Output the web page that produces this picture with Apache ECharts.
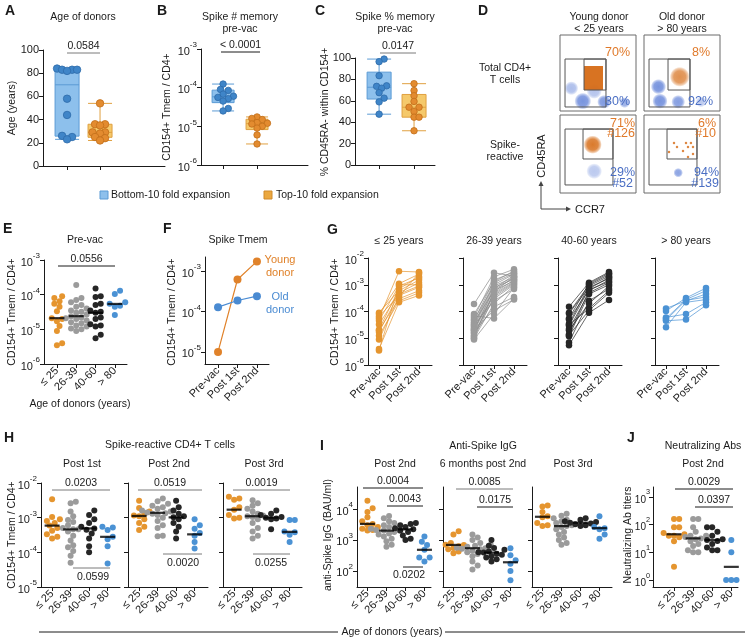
<!DOCTYPE html>
<html><head><meta charset="utf-8">
<script src="https://cdn.jsdelivr.net/npm/echarts@6/dist/echarts.min.js"></script>
<style>html,body{margin:0;padding:0;background:#fff}#c{width:746px;height:639px}</style>
</head><body><div id="c"></div>
<script>
// ======================= DATA =======================
const ageGroups = ['≤ 25', '26-39', '40-60', '> 80'];
const timePoints = ['Pre-vac', 'Post 1st', 'Post 2nd'];
const expansionGroups = ['Bottom-10 fold expansion', 'Top-10 fold expansion'];

// A: age of donors
const ageBottom10 = [84, 83, 83, 83, 82, 58, 44, 26, 25, 23];
const ageTop10 = [54, 36, 36, 35, 29, 29, 28, 25, 24, 22];
// B: spike # memory pre-vac (CD154+ Tmem / CD4+)
const spikeNumBottom10 = [1.24e-4, 9.0e-5, 8.5e-5, 6.8e-5, 6.0e-5, 5.6e-5, 5.2e-5, 4.5e-5, 2.9e-5, 2.5e-5];
const spikeNumTop10 = [1.75e-5, 1.6e-5, 1.5e-5, 1.25e-5, 1.2e-5, 1.15e-5, 1.0e-5, 9e-6, 6e-6, 3.5e-6];
// C: spike % memory pre-vac
const spikePctBottom10 = [99, 96.6, 83.5, 74, 73.5, 71.8, 67.6, 62.5, 59, 47.5];
const spikePctTop10 = [76, 69.6, 64.7, 59.4, 54, 54, 50, 44.7, 44.7, 32];

// D: flow cytometry (axis units 0-100); gates [x1,y1,x2,y2]
const gatesTotal = [[6.6, 5.3, 60.5, 68.4], [31.6, 27.6, 60.5, 68.4]];
const gatesSpike = [[6.6, 10.3, 69.7, 82], [30.3, 43.6, 69.7, 82]];
// populations [cx, cy, spreadX, spreadY, density]
const youngTotalCCR7 = [[30, 13, 28, 11, 1.0], [58, 12, 27, 9, 0.95], [85, 11, 14, 7, 0.75], [15, 30, 9, 22, 0.6], [45, 26, 25, 10, 0.55]];
const youngTotalMemBlock = [[31.6, 27.6, 56.6, 59.2]];
const oldTotalCCR7 = [[19, 32, 10, 32, 1.0], [21, 13, 13, 10, 1.0], [45, 12, 25, 9, 0.9], [75, 12, 18, 7, 0.5]];
const oldTotalMem = [[47, 45, 13, 17, 0.75]];
const youngSpikeMem = [[43, 62, 12, 16, 0.9]];
const youngSpikeCCR7 = [[45, 28, 22, 10, 0.5]];
const oldSpikeCCR7 = [[45, 26, 21, 6, 0.85]];
const oldSpikeMemEvents = [[39.5, 64.1], [55.3, 64.1], [61.8, 64.1], [64.5, 59], [57.9, 59], [32.9, 52.6], [51.3, 53.8], [64.5, 50], [57.9, 46.2], [43.4, 59]];
const flowPercents = ['70%', '30%', '8%', '92%', '71%', '#126', '29%', '#52', '6%', '#10', '94%', '#139'];

// E / G: pre-vac by age group (donor order shared with G)
const preVac = [
  [9e-5, 8e-5, 6.5e-5, 5.5e-5, 4.5e-5, 3.3e-5, 2.1e-5, 2.0e-5, 1.7e-5, 1.25e-5, 9e-6, 4e-6, 3.5e-6],
  [1.9e-4, 8e-5, 7e-5, 6e-5, 5e-5, 4.5e-5, 4e-5, 3.5e-5, 3.2e-5, 3e-5, 2.7e-5, 2.4e-5, 2.2e-5, 2.1e-5, 2e-5, 1.8e-5, 1.6e-5, 1.5e-5, 1.3e-5, 1.2e-5, 1.05e-5, 1e-5, 9e-6],
  [1.5e-4, 9e-5, 8.5e-5, 5.5e-5, 5e-5, 3.5e-5, 3.2e-5, 3e-5, 2.2e-5, 2e-5, 1.4e-5, 1.3e-5, 1.2e-5, 7e-6, 5.5e-6],
  [1.3e-4, 1.05e-4, 6e-5, 5.5e-5, 4.8e-5, 4.5e-5, 2.6e-5]
];
const preVacMed = [2.1e-5, 2.4e-5, 3.0e-5, 5.4e-5];
const post1st = [
  [6e-4, 1.1e-3, 4e-4, 3.2e-3, 9e-4, 5e-4, 7e-4, 3e-4, 4.5e-4, 2.5e-4, 3.5e-4, 2.2e-4, 1e-3],
  [2.8e-3, 1.3e-3, 5.5e-5, 2e-3, 9e-4, 1.5e-3, 6e-4, 1.2e-3, 2.5e-4, 1e-3, 8e-4, 4e-4, 1.1e-4, 7e-4, 6.5e-4, 5e-4, 3e-4, 1.5e-4, 4.5e-4, 5.5e-4, 3.5e-4, 2e-4, 8e-5],
  [1.2e-3, 1e-3, 8e-4, 1.1e-3, 6.5e-4, 9e-4, 1.3e-4, 7e-4, 5e-4, 2e-4, 6e-4, 1.1e-4, 4.5e-4, 2.5e-4, 9e-5],
  [2.5e-4, 3.2e-4, 8e-5, 2.8e-4, 2.6e-4, 5e-5, 2.2e-4]
];
const post2nd = [
  [1.5e-3, 2.5e-3, 8e-4, 3e-3, 1.8e-3, 1.2e-3, 2e-3, 6e-4, 9e-4, 5e-4, 2.8e-3, 4e-4, 1e-3],
  [2.1e-3, 3.3e-3, 3e-4, 3.8e-3, 1.9e-3, 3e-3, 1.4e-3, 2.7e-3, 7e-4, 2.5e-3, 1.6e-3, 1.2e-3, 2.8e-4, 2.3e-3, 1.8e-3, 1.5e-3, 1e-3, 3.5e-4, 1.3e-3, 2e-3, 1.1e-3, 9e-4, 8e-4],
  [3e-3, 2.4e-3, 1.7e-3, 2.7e-3, 1.3e-3, 2.1e-3, 6e-4, 1.9e-3, 1.2e-3, 9e-4, 1.5e-3, 5e-4, 1e-3, 7e-4, 2.7e-4],
  [4.5e-4, 7.5e-4, 2.2e-4, 6e-4, 3.5e-4, 1.7e-4, 2.8e-4]
];
// F: example donors
const youngDonor = [1e-5, 6.2e-4, 1.74e-3];
const oldDonor = [1.28e-4, 1.87e-4, 2.4e-4];

// H: spike-reactive CD4+ T cells
const hTitles = ['Post 1st', 'Post 2nd', 'Post 3rd'];
const hPost1 = [
  [3.4e-3, 1.05e-3, 9e-4, 8e-4, 7e-4, 5.9e-4, 5e-4, 4.2e-4, 3.3e-4, 2.8e-4, 2.5e-4],
  [2.9e-3, 2.6e-3, 1.5e-3, 1.1e-3, 8.5e-4, 7.5e-4, 6e-4, 5e-4, 4.6e-4, 4.6e-4, 4e-4, 3e-4, 2.2e-4, 1.6e-4, 1.4e-4, 1.1e-4, 8e-5, 5e-5],
  [1.6e-3, 1.2e-3, 9e-4, 7e-4, 5.5e-4, 4.9e-4, 4.5e-4, 3.5e-4, 2.5e-4, 1.5e-4, 1e-4],
  [5.5e-4, 5.2e-4, 4.4e-4, 2.8e-4, 2.4e-4, 1.5e-4, 4.8e-5]
];
const hPost2 = [
  [3.1e-3, 1.9e-3, 1.5e-3, 1.3e-3, 1.15e-3, 1.1e-3, 9e-4, 7e-4, 5.5e-4, 4.4e-4],
  [3.6e-3, 3e-3, 2.5e-3, 2.2e-3, 2e-3, 1.8e-3, 1.6e-3, 1.5e-3, 1.4e-3, 1.35e-3, 1.3e-3, 1.2e-3, 1e-3, 8e-4, 6e-4, 5e-4, 3e-4, 2.9e-4],
  [3.1e-3, 2e-3, 1.6e-3, 1.3e-3, 1.1e-3, 1.02e-3, 9e-4, 7e-4, 5.5e-4, 4e-4, 2.5e-4],
  [9e-4, 6e-4, 4.8e-4, 3.6e-4, 3e-4, 2e-4, 1.3e-4]
];
const hPost3 = [
  [4e-3, 3.6e-3, 3.3e-3, 2e-3, 1.7e-3, 1.2e-3, 1e-3, 9.5e-4],
  [3.2e-3, 2.6e-3, 2.2e-3, 1.8e-3, 1.5e-3, 1.3e-3, 1.15e-3, 1.1e-3, 1.05e-3, 9e-4, 7e-4, 5e-4, 4e-4, 3e-4, 2.5e-4],
  [1.6e-3, 1.3e-3, 1.2e-3, 1.05e-3, 1e-3, 9.5e-4, 9e-4, 4.6e-4],
  [8.5e-4, 8.5e-4, 4e-4, 3.8e-4, 3.2e-4, 2e-4]
];
const hMed = [[5.9e-4, 4.6e-4, 4.9e-4, 2.8e-4], [1.12e-3, 1.38e-3, 1.02e-3, 3.3e-4], [1.7e-3, 1.1e-3, 1.0e-3, 3.9e-4]];

// I: anti-spike IgG (BAU/ml)
const iTitles = ['Post 2nd', '6 months post 2nd', 'Post 3rd'];
const iPost2 = [
  [1.85e4, 1.05e4, 8e3, 5.4e3, 4e3, 3.3e3, 3e3, 2.6e3, 2.3e3, 2.1e3, 2e3],
  [5.9e3, 5e3, 4e3, 3.5e3, 3e3, 2.6e3, 2.3e3, 2.1e3, 2e3, 2e3, 1.8e3, 1.6e3, 1.5e3, 1.3e3, 1.1e3, 9e2, 7e2, 6e2],
  [3.5e3, 3.3e3, 3e3, 2.6e3, 2.4e3, 2.2e3, 2e3, 1.8e3, 1.4e3, 1.1e3, 1e3],
  [1.3e3, 8.8e2, 6.9e2, 4.8e2, 2.7e2, 2.7e2, 2e2]
];
const iMonth6 = [
  [1.9e3, 1.5e3, 8e2, 7.5e2, 7e2, 6.9e2, 6.2e2, 5.5e2, 5e2, 4.2e2, 3.7e2],
  [1.5e3, 1.2e3, 1e3, 8e2, 7e2, 6.5e2, 6e2, 5.6e2, 5.4e2, 5.2e2, 5e2, 4.5e2, 4e2, 3.5e2, 3e2, 2e2, 1.5e2, 1.1e2],
  [1e3, 6.5e2, 5.5e2, 4.8e2, 4.2e2, 4e2, 3.9e2, 3.6e2, 3.3e2, 3e2, 2.7e2, 2.4e2, 2e2],
  [5.4e2, 3.2e2, 2.2e2, 1.7e2, 1e2, 5e1]
];
const iPost3 = [
  [1.3e4, 1.2e4, 8e3, 5.8e3, 5.4e3, 3.5e3, 3e3, 2.8e3],
  [7e3, 6e3, 5e3, 4.5e3, 4e3, 3.5e3, 3e3, 2.8e3, 2.6e3, 2.2e3, 1.8e3, 1.5e3, 1.2e3, 1e3, 8e2, 7e2],
  [5e3, 4.5e3, 4e3, 3.8e3, 3.6e3, 3.4e3, 3.2e3, 3e3, 2.8e3],
  [5.8e3, 2.6e3, 2.4e3, 2.2e3, 1.5e3, 1.1e3]
];
const iMed = [[3.3e3, 2.0e3, 2.2e3, 4.8e2], [6.9e2, 5.4e2, 3.9e2, 1.9e2], [5.6e3, 2.8e3, 3.6e3, 2.4e3]];

// J: neutralizing Ab titers post 2nd
const jPost2 = [
  [160, 160, 80, 80, 50, 45, 40, 40, 35, 25, 3],
  [160, 160, 80, 55, 40, 40, 36, 32, 30, 25, 20, 17, 12, 10, 10],
  [80, 80, 55, 40, 30, 28, 26, 20, 15, 12, 12],
  [28, 10, 1, 1, 1, 1]
];
const jMed = [45, 32, 28, 3];

// p-values
const pA = '0.0584', pB = '< 0.0001', pC = '0.0147', pE = '0.0556';
const pH = [['0.0203', '0.0599'], ['0.0519', '0.0020'], ['0.0019', '0.0255']];
const pI = [['0.0004', '0.0043', '0.0202'], ['0.0085', '0.0175']];
const pJ = ['0.0029', '0.0397'];

// ======================= STYLE / LAYOUT =======================
const FONT = "'Liberation Sans', Arial, sans-serif";
const INK = '#1a1a1a';
const FS = 10.5;
const COL = ['#E5952F', '#9B9B9B', '#262626', '#4B92D4'];
const BOX = {
  blue: {fill: '#8DC0EC', edge: '#5B9BD5', pt: '#3F85C8', ptEdge: '#2D6BAA'},
  orange: {fill: '#F5C96B', edge: '#E0A040', pt: '#E38B2F', ptEdge: '#C26F1A'}
};
const LG = Math.log10;
const richFor = fs => ({
  b: {fontSize: fs, fontFamily: FONT, color: INK, lineHeight: 16, verticalAlign: 'bottom'},
  s: {fontSize: fs * 0.73, fontFamily: FONT, color: INK, lineHeight: 16, verticalAlign: 'top'}
});

const grids = [], xAxes = [], yAxes = [], series = [], graphics = [];

function addPanel(G, o) {
  const i = grids.length;
  const lfs = o.labelSize || 11;
  grids.push({left: G.left, top: G.top, width: G.width, height: G.height, show: !!o.border,
    borderColor: '#6a6a6a', borderWidth: 1, backgroundColor: 'transparent'});
  const axisLine = {show: !o.hideAxes, onZero: false, lineStyle: {color: INK, width: 1}};
  xAxes.push({gridIndex: i, type: 'value', min: G.xmin, max: G.xmax, show: !o.hideAxes, axisLine, splitLine: {show: false},
    axisTick: {show: !!o.xTicks, length: 4, lineStyle: {color: INK}, customValues: o.xTicks || [0]},
    axisLabel: {show: !!o.xLabels, customValues: o.xTicks || [0], rotate: o.rotate || 0, margin: 5,
      fontFamily: FONT, fontSize: 11, color: INK,
      formatter: v => o.xLabels ? o.xLabels[Math.round(v)] : ''}});
  yAxes.push({gridIndex: i, type: 'value', min: G.ymin, max: G.ymax, show: !o.hideAxes, axisLine, splitLine: {show: false},
    axisTick: {show: !!o.yTicks, length: 4, lineStyle: {color: INK}, customValues: o.yTicks || [0]},
    axisLabel: {show: !!o.yLabels, customValues: o.yTicks || [0], margin: o.labelMargin || 4, fontFamily: FONT, fontSize: lfs, color: INK,
      formatter: o.yLabels === 'exp' ? (v => `{b|10}{s|${Math.round(v)}}`) : (v => String(Math.round(v))), rich: richFor(lfs)}});
  return i;
}

function pct(s, p) {
  const n = s.length, r = (n + 1) * p, lo = Math.floor(r), f = r - lo;
  if (lo < 1) return s[0];
  if (lo >= n) return s[n - 1];
  return s[lo - 1] + f * (s[lo] - s[lo - 1]);
}
function boxStats(vals) {
  const s = [...vals].sort((a, b) => a - b);
  return [s[0], pct(s, 0.25), pct(s, 0.5), pct(s, 0.75), s[s.length - 1]];
}
function swarmOffsets(ysPx, d, step) {
  const order = ysPx.map((y, i) => i).sort((a, b) => ysPx[a] - ysPx[b]);
  const placed = [], off = new Array(ysPx.length).fill(0);
  for (const i of order) {
    const y = ysPx[i];
    let chosen = 0;
    for (let k = 0; k < 80; k++) {
      const cands = k === 0 ? [0] : [k * step, -k * step];
      let ok = null;
      for (const x of cands) {
        if (placed.every(p => (p.x - x) * (p.x - x) + (p.y - y) * (p.y - y) >= d * d)) { ok = x; break; }
      }
      if (ok !== null) { chosen = ok; break; }
    }
    off[i] = chosen; placed.push({x: chosen, y});
  }
  return off;
}
function dots(gi, G, xPos, vals, o) {
  const ys = vals.map(v => G.log ? LG(v) : v);
  const pxY = G.height / (G.ymax - G.ymin), pxX = G.width / (G.xmax - G.xmin);
  const off = swarmOffsets(ys.map(y => y * pxY), o.d, o.d * 0.5);
  series.push({type: 'scatter', xAxisIndex: gi, yAxisIndex: gi, symbolSize: o.size, silent: true, z: 4,
    data: ys.map((y, i) => [xPos + off[i] / pxX, y]),
    itemStyle: {color: o.color, borderColor: o.edge || o.color, borderWidth: o.edge ? 0.8 : 0, opacity: 1}});
}
function medians(gi, G, meds) {
  series.push({type: 'scatter', xAxisIndex: gi, yAxisIndex: gi, symbol: 'rect', symbolSize: [15, 2.2], silent: true, z: 6,
    data: meds.map((m, k) => [k, G.log ? LG(m) : m]), itemStyle: {color: '#000'}});
}
function boxes(gi, G, sets, w) {
  series.push({type: 'boxplot', xAxisIndex: gi, yAxisIndex: gi, silent: true, z: 2, boxWidth: [w, w],
    data: sets.map(([xPos, vals, c]) => ({value: [xPos, ...boxStats(vals).map(v => G.log ? LG(v) : v)],
      itemStyle: {color: c.fill, borderColor: c.edge, borderWidth: 1}}))});
}
function T(x, y, text, o = {}) {
  graphics.push({type: 'text', x, y, rotation: o.rot || 0, silent: true, z: 50,
    style: {text, fill: o.color || INK, fontFamily: FONT, fontSize: o.size || FS, fontWeight: o.bold ? 'bold' : 'normal',
      align: o.align || 'center', verticalAlign: o.va || 'middle'}});
}
function Ln(x1, y1, x2, y2, color, w) {
  graphics.push({type: 'line', silent: true, z: 50, shape: {x1, y1, x2, y2}, style: {stroke: color || INK, lineWidth: w || 1}});
}
function pbar(x1, x2, y, text, color) { Ln(x1, y, x2, y, color || '#7a7a7a', 1); if (text) T((x1 + x2) / 2, y - 7, text); }
const yName = (x, y, t) => T(x, y, t, {rot: Math.PI / 2});

// ======================= PANEL A =======================
const LA = {left: 43, top: 50, width: 122, height: 116, xmin: 0.27, xmax: 3.97, ymin: 0, ymax: 100};
let g = addPanel(LA, {xTicks: [1, 2], yTicks: [0, 20, 40, 60, 80, 100], yLabels: 'num'});
boxes(g, LA, [[1, ageBottom10, BOX.blue], [2, ageTop10, BOX.orange]], 24);
dots(g, LA, 1, ageBottom10, {size: 7.5, color: BOX.blue.pt, edge: BOX.blue.ptEdge, d: 5});
dots(g, LA, 2, ageTop10, {size: 7.5, color: BOX.orange.pt, edge: BOX.orange.ptEdge, d: 5});
T(5, 11, 'A', {bold: true, size: 14, align: 'left'});
T(83, 17, 'Age of donors');
yName(12, 108, 'Age (years)');
pbar(67, 100, 53, pA);

// ======================= PANEL B =======================
const LB = {left: 201, top: 49, width: 107, height: 116, xmin: 0.35, xmax: 3.5, ymin: -6, ymax: -3, log: true};
g = addPanel(LB, {xTicks: [1, 2], yTicks: [-6, -5, -4, -3], yLabels: 'exp'});
boxes(g, LB, [[1, spikeNumBottom10, BOX.blue], [2, spikeNumTop10, BOX.orange]], 22);
dots(g, LB, 1, spikeNumBottom10, {size: 6.5, color: BOX.blue.pt, edge: BOX.blue.ptEdge, d: 5.2});
dots(g, LB, 2, spikeNumTop10, {size: 6.5, color: BOX.orange.pt, edge: BOX.orange.ptEdge, d: 5.2});
T(157, 11, 'B', {bold: true, size: 14, align: 'left'});
T(240, 17, 'Spike # memory'); T(240, 29, 'pre-vac');
yName(167, 107, 'CD154+ Tmem / CD4+');
pbar(221, 260, 52, pB, INK);

// ======================= PANEL C =======================
const LC = {left: 355, top: 58, width: 80, height: 107, xmin: 0.31, xmax: 2.6, ymin: 0, ymax: 100};
g = addPanel(LC, {xTicks: [1, 2], yTicks: [0, 20, 40, 60, 80, 100], yLabels: 'num'});
boxes(g, LC, [[1, spikePctBottom10, BOX.blue], [2, spikePctTop10, BOX.orange]], 24);
dots(g, LC, 1, spikePctBottom10, {size: 6.5, color: BOX.blue.pt, edge: BOX.blue.ptEdge, d: 5});
dots(g, LC, 2, spikePctTop10, {size: 6.5, color: BOX.orange.pt, edge: BOX.orange.ptEdge, d: 5});
T(315, 11, 'C', {bold: true, size: 14, align: 'left'});
T(395, 17, 'Spike % memory'); T(395, 29, 'pre-vac');
yName(325, 112, '% CD45RA- within CD154+');
pbar(380, 416, 53, pC);

// legend A-C
graphics.push({type: 'rect', shape: {x: 100, y: 191, width: 8, height: 8}, style: {fill: BOX.blue.fill, stroke: BOX.blue.edge}, z: 50});
T(111, 195, expansionGroups[0], {align: 'left'});
graphics.push({type: 'rect', shape: {x: 264, y: 191, width: 8, height: 8}, style: {fill: '#EBA840', stroke: '#D08A2A'}, z: 50});
T(276, 195, expansionGroups[1], {align: 'left'});

// ======================= PANEL D (flow) =======================
const FL = {xmin: 0, xmax: 100, ymin: 0, ymax: 100};
function cloud(gi, data, rgb) {
  series.push({type: 'custom', xAxisIndex: gi, yAxisIndex: gi, silent: true, z: 2, data,
    renderItem: (p, api) => {
      const c = api.coord([api.value(0), api.value(1)]);
      const s = api.size([api.value(2), api.value(3)]);
      const a = api.value(4);
      return {type: 'ellipse', shape: {cx: c[0], cy: c[1], rx: s[0], ry: s[1]},
        style: {fill: new echarts.graphic.RadialGradient(0.5, 0.5, 0.5, [
          {offset: 0, color: `rgba(${rgb},${a})`}, {offset: 0.6, color: `rgba(${rgb},${a * 0.9})`},
          {offset: 0.85, color: `rgba(${rgb},${a * 0.45})`}, {offset: 1, color: `rgba(${rgb},0)`}])}};
    }});
}
function blocks(gi, data, color) {
  series.push({type: 'custom', xAxisIndex: gi, yAxisIndex: gi, silent: true, z: 3, data,
    renderItem: (p, api) => {
      const a = api.coord([api.value(0), api.value(1)]), b = api.coord([api.value(2), api.value(3)]);
      return {type: 'rect', shape: {x: Math.min(a[0], b[0]), y: Math.min(a[1], b[1]), width: Math.abs(b[0] - a[0]), height: Math.abs(b[1] - a[1])},
        style: {fill: color}};
    }});
}
function gates(gi, data) {
  series.push({type: 'custom', xAxisIndex: gi, yAxisIndex: gi, silent: true, z: 5, data,
    renderItem: (p, api) => {
      const a = api.coord([api.value(0), api.value(1)]), b = api.coord([api.value(2), api.value(3)]);
      return {type: 'rect', shape: {x: Math.min(a[0], b[0]), y: Math.min(a[1], b[1]), width: Math.abs(b[0] - a[0]), height: Math.abs(b[1] - a[1])},
        style: {fill: 'none', stroke: '#555', lineWidth: 1}};
    }});
}
const BLUEF = '120,148,222', ORF = '214,108,22';
let f1 = addPanel(Object.assign({left: 560, top: 35, width: 76, height: 76}, FL), {hideAxes: true, border: true});
cloud(f1, youngTotalCCR7, BLUEF); blocks(f1, youngTotalMemBlock, 'rgba(214,108,22,0.95)'); gates(f1, gatesTotal);
let f2 = addPanel(Object.assign({left: 644, top: 35, width: 76, height: 76}, FL), {hideAxes: true, border: true});
cloud(f2, oldTotalCCR7, BLUEF); cloud(f2, oldTotalMem, ORF); gates(f2, gatesTotal);
let f3 = addPanel(Object.assign({left: 560, top: 115, width: 76, height: 78}, FL), {hideAxes: true, border: true});
cloud(f3, youngSpikeCCR7, BLUEF); cloud(f3, youngSpikeMem, ORF); gates(f3, gatesSpike);
let f4 = addPanel(Object.assign({left: 644, top: 115, width: 76, height: 78}, FL), {hideAxes: true, border: true});
cloud(f4, oldSpikeCCR7, BLUEF); gates(f4, gatesSpike);
series.push({type: 'scatter', xAxisIndex: f4, yAxisIndex: f4, symbolSize: 2.5, silent: true, z: 4, data: oldSpikeMemEvents, itemStyle: {color: '#D66C16'}});

const DOR = '#E07A2B', DBL = '#4B6FC4';
T(478, 11, 'D', {bold: true, size: 14, align: 'left'});
T(599, 17, 'Young donor'); T(599, 29, '< 25 years');
T(682, 17, 'Old donor'); T(682, 29, '> 80 years');
T(505, 68, 'Total CD4+'); T(505, 80, 'T cells');
T(505, 145, 'Spike-'); T(505, 157, 'reactive');
T(630, 53, flowPercents[0], {color: DOR, size: 12.5, align: 'right'});
T(630, 102, flowPercents[1], {color: DBL, size: 12.5, align: 'right'});
T(710, 53, flowPercents[2], {color: DOR, size: 12.5, align: 'right'});
T(713, 102, flowPercents[3], {color: DBL, size: 12.5, align: 'right'});
T(635, 124, flowPercents[4], {color: DOR, size: 12.5, align: 'right'});
T(635, 134, flowPercents[5], {color: DOR, size: 12.5, align: 'right'});
T(635, 173, flowPercents[6], {color: DBL, size: 12.5, align: 'right'});
T(633, 184, flowPercents[7], {color: DBL, size: 12.5, align: 'right'});
T(716, 124, flowPercents[8], {color: DOR, size: 12.5, align: 'right'});
T(716, 134, flowPercents[9], {color: DOR, size: 12.5, align: 'right'});
T(719, 173, flowPercents[10], {color: DBL, size: 12.5, align: 'right'});
T(719, 184, flowPercents[11], {color: DBL, size: 12.5, align: 'right'});
T(542, 156, 'CD45RA', {rot: Math.PI / 2, size: 11});
Ln(541, 184, 541, 209, '#444'); Ln(541, 209, 567, 209, '#444');
graphics.push({type: 'polygon', shape: {points: [[538.5, 186], [543.5, 186], [541, 181]]}, style: {fill: '#444'}, z: 50});
graphics.push({type: 'polygon', shape: {points: [[566, 206.5], [566, 211.5], [571, 209]]}, style: {fill: '#444'}, z: 50});
T(575, 210, 'CCR7', {align: 'left', size: 11});

// ======================= PANEL E =======================
const LE = {left: 44, top: 260, width: 83, height: 104, xmin: -0.67, xmax: 3.63, ymin: -6, ymax: -3, log: true};
g = addPanel(LE, {xTicks: [0, 1, 2, 3], xLabels: ageGroups, rotate: 45, yTicks: [-6, -5, -4, -3], yLabels: 'exp'});
preVac.forEach((vals, k) => dots(g, LE, k, vals, {size: 6, color: COL[k], d: 5.2}));
medians(g, LE, preVacMed);
T(3, 229, 'E', {bold: true, size: 14, align: 'left'});
T(85, 240, 'Pre-vac');
yName(12, 312, 'CD154+ Tmem / CD4+');
pbar(58, 115, 266, pE, INK);
T(80, 404, 'Age of donors (years)');

// ======================= PANEL F =======================
const LF = {left: 205, top: 257, width: 64, height: 107, xmin: -0.67, xmax: 2.62, ymin: -5.3, ymax: -2.65, log: true};
g = addPanel(LF, {xTicks: [0, 1, 2], xLabels: timePoints, rotate: 45, yTicks: [-5, -4, -3], yLabels: 'exp'});
[[youngDonor, '#E0822A'], [oldDonor, '#4A8BD2']].forEach(([vals, c]) => {
  series.push({type: 'line', xAxisIndex: g, yAxisIndex: g, silent: true, z: 4, symbol: 'circle', symbolSize: 8,
    data: vals.map((v, k) => [k, LG(v)]), lineStyle: {color: c, width: 1.2}, itemStyle: {color: c}});
});
T(163, 229, 'F', {bold: true, size: 14, align: 'left'});
T(238, 240, 'Spike Tmem');
yName(172, 312, 'CD154+ Tmem / CD4+');
T(280, 260, 'Young', {color: '#E0822A', size: 11}); T(280, 273, 'donor', {color: '#E0822A', size: 11});
T(280, 297, 'Old', {color: '#4A8BD2', size: 11}); T(280, 310, 'donor', {color: '#4A8BD2', size: 11});

// ======================= PANEL G =======================
const gTitles = ['≤ 25 years', '26-39 years', '40-60 years', '> 80 years'];
const gLine = ['#E5952F', '#8A8A8A', '#262626', '#4B92D4'];
[368, 463, 558, 655].forEach((left, k) => {
  const LGd = {left, top: 258, width: 64, height: 107, xmin: -0.55, xmax: 2.65, ymin: -6, ymax: -2, log: true};
  const gi = addPanel(LGd, {xTicks: [0, 1, 2], xLabels: timePoints, rotate: 45, yTicks: [-6, -5, -4, -3, -2], yLabels: k === 0 ? 'exp' : null});
  preVac[k].forEach((v, d) => {
    series.push({type: 'line', xAxisIndex: gi, yAxisIndex: gi, silent: true, z: 3, symbol: 'circle', symbolSize: 6.5,
      data: [[0, LG(v)], [1, LG(post1st[k][d])], [2, LG(post2nd[k][d])]],
      lineStyle: {color: gLine[k], width: 0.7}, itemStyle: {color: COL[k]}});
  });
  T(left + 31, 241, gTitles[k]);
});
T(327, 230, 'G', {bold: true, size: 14, align: 'left'});
yName(335, 312, 'CD154+ Tmem / CD4+');

// ======================= PANEL H =======================
const hData = [hPost1, hPost2, hPost3];
[[41, 79], [128, 80], [223, 79]].forEach(([left, w], p) => {
  const LH = {left, top: 483, width: w, height: 104, xmin: -0.6, xmax: w / 18.5 - 0.6, ymin: -5, ymax: -2, log: true};
  const gi = addPanel(LH, {xTicks: [0, 1, 2, 3], xLabels: ageGroups, rotate: 45, yTicks: [-5, -4, -3, -2], yLabels: p === 0 ? 'exp' : null});
  hData[p].forEach((vals, k) => dots(gi, LH, k, vals, {size: 6, color: COL[k], d: 5.2}));
  medians(gi, LH, hMed[p]);
  T(left + 41, 464, hTitles[p]);
});
T(4, 438, 'H', {bold: true, size: 14, align: 'left'});
T(170, 445, 'Spike-reactive CD4+ T cells');
yName(12, 535, 'CD154+ Tmem / CD4+');
pbar(52, 110, 490, pH[0][0]); pbar(73, 110, 568, ''); T(93, 577, pH[0][1]);
pbar(138, 202, 490, pH[1][0]); pbar(163, 202, 554, ''); T(183, 563, pH[1][1]);
pbar(233, 290, 490, pH[2][0]); pbar(253, 290, 554, ''); T(271, 563, pH[2][1]);

// ======================= PANEL I =======================
const iData = [iPost2, iMonth6, iPost3];
[[357, 74], [443, 78], [532, 80]].forEach(([left, w], p) => {
  const LI = {left, top: 487, width: w, height: 100, xmin: -0.55, xmax: w / 19 - 0.55, ymin: 1.48, ymax: 4.71, log: true};
  const gi = addPanel(LI, {xTicks: [0, 1, 2, 3], xLabels: ageGroups, rotate: 45, yTicks: [2, 3, 4], yLabels: p === 0 ? 'exp' : null});
  iData[p].forEach((vals, k) => dots(gi, LI, k, vals, {size: 6, color: COL[k], d: 5.2}));
  medians(gi, LI, iMed[p]);
});
T(320, 446, 'I', {bold: true, size: 14, align: 'left'});
T(483, 446, 'Anti-Spike IgG');
T(395, 464, iTitles[0]); T(483, 464, iTitles[1]); T(573, 464, iTitles[2]);
yName(328, 535, 'anti-Spike IgG (BAU/ml)');
pbar(363, 423, 488, pI[0][0], INK); pbar(387, 423, 506, pI[0][1], INK);
Ln(403, 567, 423, 567, INK); T(409, 575, pI[0][2]);
pbar(456, 513, 489, pI[1][0]); pbar(477, 513, 507, pI[1][1], INK);

// ======================= PANEL J =======================
const LJ = {left: 653, top: 487, width: 85, height: 100, xmin: -1.1, xmax: 3.35, ymin: -0.25, ymax: 3.36, log: true};
g = addPanel(LJ, {xTicks: [0, 1, 2, 3], xLabels: ageGroups, rotate: 45, yTicks: [0, 1, 2, 3], yLabels: 'exp', labelSize: 10, labelMargin: 3});
jPost2.forEach((vals, k) => dots(g, LJ, k, vals, {size: 6, color: COL[k], d: 5.2}));
medians(g, LJ, jMed);
T(627, 438, 'J', {bold: true, size: 14, align: 'left'});
T(703, 446, 'Neutralizing Abs'); T(703, 464, 'Post 2nd');
yName(628, 535, 'Neutralizing Ab titers');
pbar(675, 733, 489, pJ[0], INK); pbar(695, 733, 507, pJ[1], INK);

// bottom shared axis title
Ln(39, 632, 338, 632, INK); Ln(445, 632, 745, 632, INK);
T(392, 632, 'Age of donors (years)');

// ======================= RENDER =======================
const chart = echarts.init(document.getElementById('c'), null, {renderer: 'canvas'});
chart.setOption({animation: false, backgroundColor: '#fff', textStyle: {fontFamily: FONT},
  grid: grids, xAxis: xAxes, yAxis: yAxes, series, graphic: {elements: graphics}});
</script></body></html>
